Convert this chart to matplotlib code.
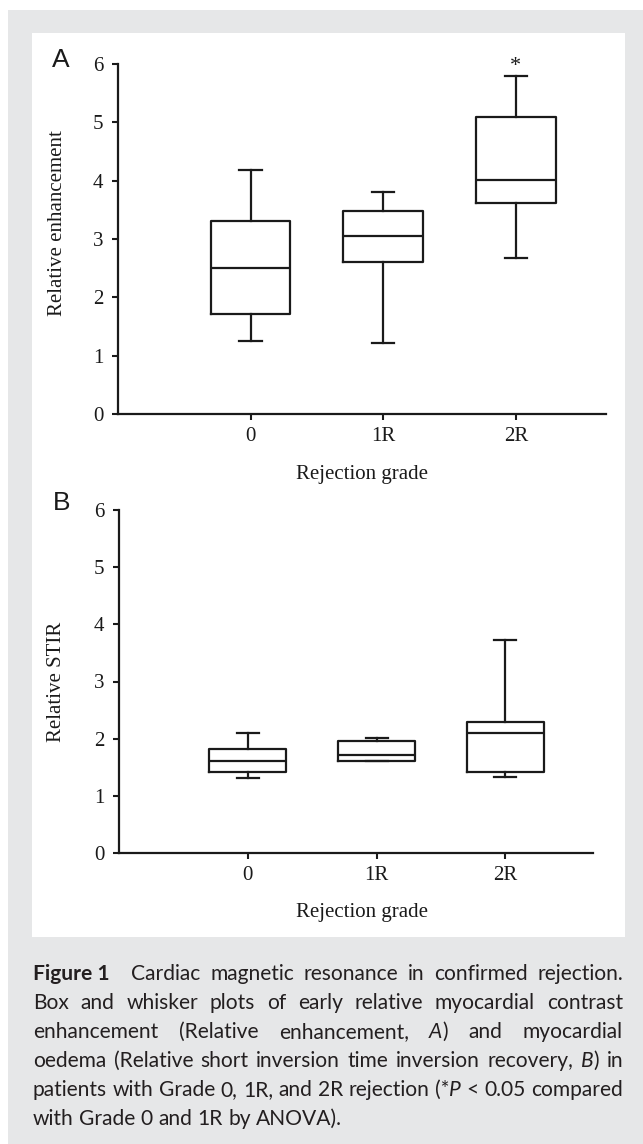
import matplotlib
matplotlib.use('Agg')
import matplotlib.pyplot as plt
from matplotlib.patches import Rectangle

W, H = 643, 1144  # output size in pixels (dpi 100)

groups = ['0', '1R', '2R']
positions = [1, 2, 3]

# Panel A - relative enhancement (box + whisker summary)
enh_whislo = [1.25, 1.21, 2.67]
enh_q1 = [1.71, 2.60, 3.61]
enh_med = [2.51, 3.06, 4.01]
enh_q3 = [3.31, 3.48, 5.10]
enh_whishi = [4.18, 3.80, 5.80]

# Panel B - relative STIR
stir_whislo = [1.31, 1.61, 1.33]
stir_q1 = [1.42, 1.61, 1.42]
stir_med = [1.61, 1.71, 2.10]
stir_q3 = [1.82, 1.96, 2.30]
stir_whishi = [2.10, 2.01, 3.72]

yticks = [0, 1, 2, 3, 4, 5, 6]

caption = [
    "^Figure~1^ | Cardiac magnetic resonance in confirmed rejection.",
    "Box and whisker plots of early relative myocardial contrast",
    "enhancement (Relative enhancement, _A_) and myocardial",
    "oedema (Relative short inversion time inversion recovery, _B_) in",
    "patients with Grade 0, 1R, and 2R rejection (*_P_ < 0.05 compared",
    "with Grade 0 and 1R by ANOVA).",
]

INK = '#1a1a1a'
SERIF = ['Liberation Serif', 'DejaVu Serif']
CAP_FONT = ['Lato', 'DejaVu Sans']


def fx(x):
    return x / W


def fy(y):
    # pixel measured from the top -> figure fraction
    return 1 - y / H


def make_stats(lo, q1, med, q3, hi):
    return [dict(whislo=a, q1=b, med=c, q3=d, whishi=e, fliers=[])
            for a, b, c, d, e in zip(lo, q1, med, q3, hi)]


def panel(rect, stats, ylabel, ylab_xy, xlab_xy):
    ax = fig.add_axes(rect)
    ax.set_facecolor('none')
    line = dict(color=INK, linewidth=1.6)
    ax.bxp(stats, positions=positions, widths=0.6, capwidths=0.17,
           showfliers=False, boxprops=line, whiskerprops=line,
           capprops=line, medianprops=line)
    ax.set_xlim(0, 3.68)
    ax.set_ylim(0, 6)
    ax.set_yticks(yticks)
    ax.set_xticks(positions)
    ax.set_xticklabels(groups)
    for s in ['top', 'right']:
        ax.spines[s].set_visible(False)
    for s in ['left', 'bottom']:
        ax.spines[s].set_linewidth(1.6)
        ax.spines[s].set_color(INK)
    ax.tick_params(direction='out', length=4.5, width=1.5, color=INK,
                   labelsize=15, labelcolor=INK)
    ax.tick_params(axis='y', pad=6)
    ax.tick_params(axis='x', pad=5)
    for lab in ax.get_xticklabels() + ax.get_yticklabels():
        lab.set_family(SERIF)
    ax.set_ylabel(ylabel, family=SERIF, fontsize=15, color=INK, va='center')
    ax.yaxis.set_label_coords(*ylab_xy)
    ax.set_xlabel('Rejection grade', family=SERIF, fontsize=15, color=INK, va='center')
    ax.xaxis.set_label_coords(*xlab_xy)
    return ax


def parse_word(word):
    # '_' toggles italic, '^' toggles bold, '~' is a non-breaking space
    segs, style, weight, buf = [], 'normal', 'normal', ''
    for ch in word:
        if ch in '_^':
            if buf:
                segs.append((buf.replace('~', ' '), style, weight))
                buf = ''
            if ch == '_':
                style = 'italic' if style == 'normal' else 'normal'
            else:
                weight = 'bold' if weight == 'normal' else 'normal'
        else:
            buf += ch
    if buf:
        segs.append((buf.replace('~', ' '), style, weight))
    return segs


def measure(fs):
    r = fig.canvas.get_renderer()

    def width(s, style, weight):
        t = fig.text(0, 0, s, fontsize=fs, family=CAP_FONT, style=style, weight=weight)
        w = t.get_window_extent(r).width
        t.remove()
        return w

    space = width('a a', 'normal', 'normal') - width('aa', 'normal', 'normal')
    rows = []
    for line in caption:
        words = []
        for w in line.split(' '):
            if w == '|':
                words.append((None, 0.5 * space))
                continue
            segs = parse_word(w)
            segw = [width(*s) for s in segs]
            words.append((list(zip(segs, segw)), sum(segw)))
        rows.append(words)
    return rows, space


def draw_caption(x0, x1, base0, step):
    # pick the size so the longest line just fits with normal word spacing
    rows, space = measure(13)
    natural = max(sum(w for _, w in row) + space * (len(row) - 1) for row in rows[:-1])
    fs = 13 * (x1 - x0) / natural * 0.995
    rows, space = measure(fs)
    for i, words in enumerate(rows):
        total = sum(w for _, w in words)
        if i < len(rows) - 1:
            gap = (x1 - x0 - total) / (len(words) - 1)
        else:
            gap = space
        x = x0
        base = base0 + i * step
        for segs, w in words:
            if segs is not None:
                xs = x
                for (s, style, weight), sw in segs:
                    fig.text(fx(xs), fy(base), s, fontsize=fs, family=CAP_FONT,
                             style=style, weight=weight, color='#231f20',
                             ha='left', va='baseline')
                    xs += sw
            x += w + gap


fig = plt.figure(figsize=(W / 100, H / 100), dpi=100)
fig.patch.set_facecolor('white')

# grey figure frame and white chart area
fig.patches.append(Rectangle((fx(8), 0), 1 - fx(8), fy(10), transform=fig.transFigure,
                             facecolor='#e6e7e8', edgecolor='none', zorder=-20))
fig.patches.append(Rectangle((fx(32), fy(937)), fx(625) - fx(32), fy(33) - fy(937),
                             transform=fig.transFigure, facecolor='white',
                             edgecolor='none', zorder=-10))

# panel A
axA = panel([fx(118), fy(414), fx(606) - fx(118), fy(64) - fy(414)],
            make_stats(enh_whislo, enh_q1, enh_med, enh_q3, enh_whishi),
            'Relative enhancement', (-0.123, 0.546), (0.5, -61 / 350))
axA.text(3, 5.96, '*', ha='center', va='center', family=SERIF, fontsize=16,
         color=INK, clip_on=False)

# panel B
axB = panel([fx(119), fy(853), fx(593) - fx(119), fy(510) - fy(853)],
            make_stats(stir_whislo, stir_q1, stir_med, stir_q3, stir_whishi),
            'Relative STIR', (-0.131, 0.5), (0.513, -59 / 343))

fig.text(fx(61), fy(60), 'A', ha='center', va='center', family=['Liberation Sans'],
         fontsize=19, color=INK)
fig.text(fx(62), fy(503), 'B', ha='center', va='center', family=['Liberation Sans'],
         fontsize=19, color=INK)

draw_caption(33, 623, 980, 29)

fig.savefig('out.png', dpi=100)
